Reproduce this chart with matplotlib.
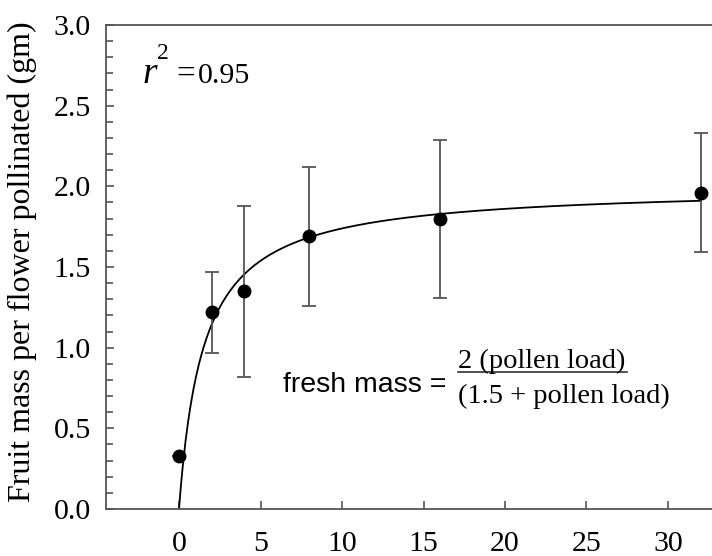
import matplotlib
matplotlib.use("Agg")
import matplotlib.pyplot as plt
import numpy as np
from matplotlib.ticker import MultipleLocator

# Data
pollen_load = [0, 2, 4, 8, 16, 32]
fruit_mass = [0.33, 1.22, 1.35, 1.69, 1.80, 1.96]
err_low = [0.33, 0.97, 0.82, 1.26, 1.31, 1.59]
err_high = [0.33, 1.47, 1.88, 2.12, 2.29, 2.33]
x_ticks = [0, 5, 10, 15, 20, 25, 30]
y_ticks = [0.0, 0.5, 1.0, 1.5, 2.0, 2.5, 3.0]

fig = plt.figure(figsize=(7.12, 5.56), dpi=100)
ax = fig.add_axes([106/712, 1 - 509/556, 1 - 106/712, (509 - 25)/556])

spine_col = '#555555'
for s in ['left', 'bottom', 'top']:
    ax.spines[s].set_color(spine_col)
    ax.spines[s].set_linewidth(1.3)
ax.spines['right'].set_visible(False)

ax.set_xlim(-4.48, 32.7)
ax.set_ylim(0, 3.0)
ax.set_xticks(x_ticks)
ax.set_yticks(y_ticks)
ax.set_yticklabels([f"{v:.1f}" for v in y_ticks])
ax.yaxis.set_minor_locator(MultipleLocator(0.1))
ax.tick_params(axis='both', which='both', direction='in', color=spine_col,
               width=1.2, labelsize=21.5, top=False, right=False)
ax.tick_params(axis='x', which='major', length=6, pad=16)
ax.tick_params(axis='y', which='major', length=6, pad=11)
ax.tick_params(axis='y', which='minor', length=5)
for lab in ax.get_xticklabels() + ax.get_yticklabels():
    lab.set_fontfamily('Liberation Serif')

# Fitted curve: 2x / (1.5 + x)
xc = np.linspace(0, 32, 400)
yc = 2 * xc / (1.5 + xc)
ax.plot(xc, yc, color='black', lw=1.3, zorder=2)

yerr = [np.array(fruit_mass) - np.array(err_low), np.array(err_high) - np.array(fruit_mass)]
ax.errorbar(pollen_load, fruit_mass, yerr=yerr, fmt='none', ecolor='#555555',
            elinewidth=1.3, capsize=5, capthick=1.3, zorder=3)
ax.plot(pollen_load, fruit_mass, 'o', color='black', markersize=9, zorder=4)

fig.text(22/712, 1 - 262/556, 'Fruit mass per flower pollinated (gm)',
         fontfamily='Liberation Serif', fontsize=23, rotation=90,
         ha='center', va='center')

# r^2 annotation
ax.text(-2.25, 2.641, 'r', fontfamily='Liberation Serif', fontstyle='italic',
        fontsize=27, va='baseline', ha='left')
ax.text(-1.35, 2.79, '2', fontfamily='Liberation Serif', fontsize=17,
        va='baseline', ha='left')
ax.text(-0.15, 2.641, '=', fontfamily='Liberation Serif', fontsize=24,
        va='baseline', ha='left')
ax.text(1.17, 2.641, '0.95', fontfamily='Liberation Serif', fontsize=21.5,
        va='baseline', ha='left')

# Equation
ax.text(6.38, 0.725, 'fresh mass =', fontfamily='Liberation Sans', fontsize=20.5,
        va='baseline', ha='left')
ax.text(17.1, 0.874, '2 (pollen load)', fontfamily='Liberation Serif', fontsize=20.5,
        va='baseline', ha='left')
ax.plot([17.1, 27.5], [0.849, 0.849], color='#333333', lw=1.2)
ax.text(17.1, 0.657, '(1.5 + pollen load)', fontfamily='Liberation Serif', fontsize=20.5,
        va='baseline', ha='left')

fig.savefig('out.png', dpi=100)
